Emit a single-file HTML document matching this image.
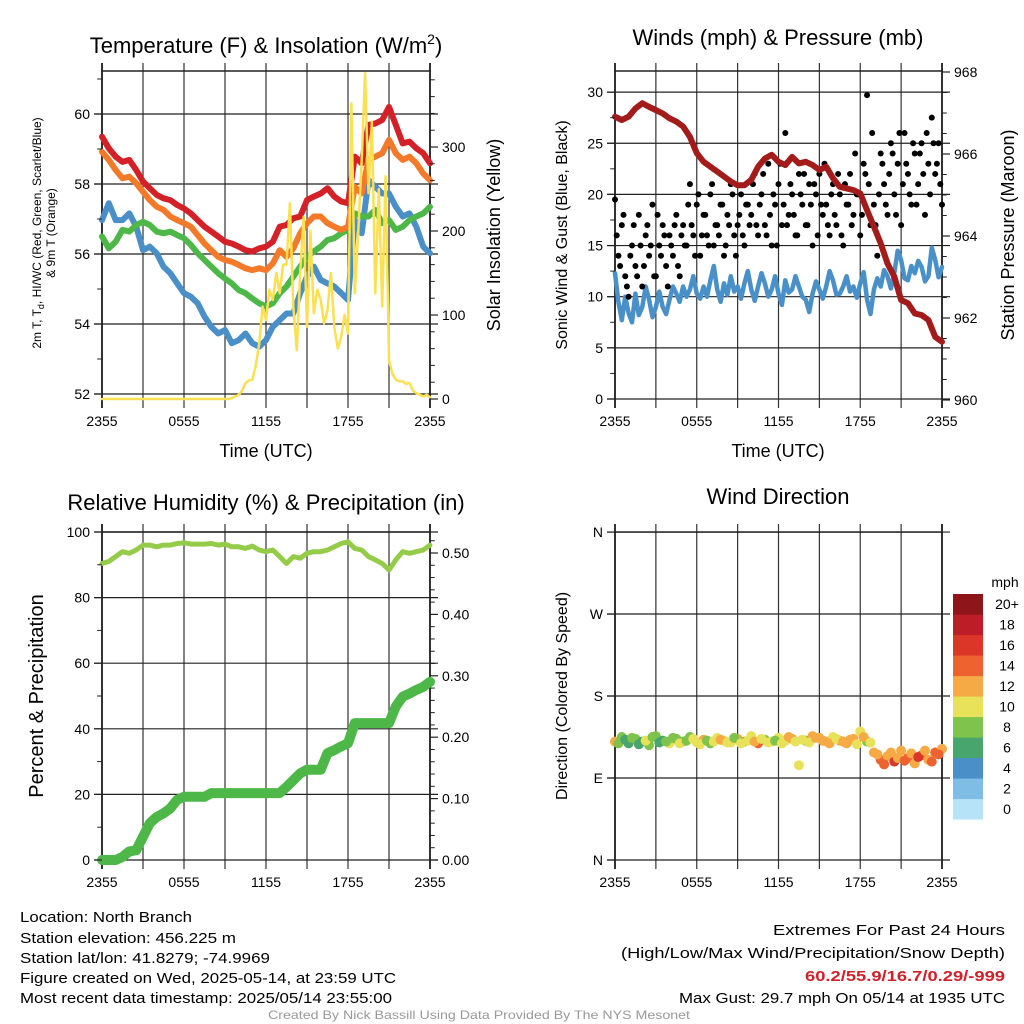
<!DOCTYPE html>
<html><head><meta charset="utf-8"><style>
html,body{margin:0;padding:0;background:#fff;}
svg{display:block;font-family:"Liberation Sans",Arial,sans-serif;}
</style></head><body>
<svg id="c" width="1024" height="1024" viewBox="0 0 1024 1024" xmlns="http://www.w3.org/2000/svg">
<rect x="0" y="0" width="1024" height="1024" fill="#fff"/>
<g id="grid"></g>
<g id="series"></g>
<g id="axes"></g>
<g font-size="22" text-anchor="middle" fill="#000">
<text x="266" y="53">Temperature (F) &amp; Insolation (W/m<tspan dy="-9" font-size="14">2</tspan><tspan dy="9">)</tspan></text>
<text x="778" y="45">Winds (mph) &amp; Pressure (mb)</text>
<text x="266" y="510">Relative Humidity (%) &amp; Precipitation (in)</text>
<text x="778" y="504">Wind Direction</text>
</g>
<g font-size="18" text-anchor="middle" fill="#000">
<text x="266" y="457">Time (UTC)</text>
<text x="778" y="457">Time (UTC)</text>
<text transform="translate(500,235) rotate(-90)">Solar Insolation (Yellow)</text>
<text transform="translate(1014,235) rotate(-90)">Station Pressure (Maroon)</text>
<text transform="translate(43,696) rotate(-90)" font-size="20">Percent &amp; Precipitation</text>
<text transform="translate(567,235) rotate(-90)" font-size="16">Sonic Wind &amp; Gust (Blue, Black)</text>
<text transform="translate(567,696) rotate(-90)" font-size="16">Direction (Colored By Speed)</text>
<text transform="translate(41,233) rotate(-90)" font-size="12">2m T, T<tspan font-size="9" dy="3">d</tspan><tspan dy="-3">, HI/WC (Red, Green, Scarlet/Blue)</tspan></text>
<text transform="translate(55,233) rotate(-90)" font-size="12">&amp; 9m T (Orange)</text>
</g>
<g font-size="15" fill="#000">
<text x="20" y="922" textLength="172" lengthAdjust="spacingAndGlyphs">Location: North Branch</text>
<text x="20" y="943" textLength="216" lengthAdjust="spacingAndGlyphs">Station elevation: 456.225 m</text>
<text x="20" y="963" textLength="250" lengthAdjust="spacingAndGlyphs">Station lat/lon: 41.8279; -74.9969</text>
<text x="20" y="983" textLength="376" lengthAdjust="spacingAndGlyphs">Figure created on Wed, 2025-05-14, at 23:59 UTC</text>
<text x="20" y="1003" textLength="372" lengthAdjust="spacingAndGlyphs">Most recent data timestamp: 2025/05/14 23:55:00</text>
<text x="1005" y="935" text-anchor="end" textLength="232" lengthAdjust="spacingAndGlyphs">Extremes For Past 24 Hours</text>
<text x="1005" y="958" text-anchor="end" textLength="384" lengthAdjust="spacingAndGlyphs">(High/Low/Max Wind/Precipitation/Snow Depth)</text>
<text x="1005" y="981" text-anchor="end" font-weight="bold" fill="#d0202a" textLength="200" lengthAdjust="spacingAndGlyphs">60.2/55.9/16.7/0.29/-999</text>
<text x="1005" y="1003" text-anchor="end" textLength="326" lengthAdjust="spacingAndGlyphs">Max Gust: 29.7 mph On 05/14 at 1935 UTC</text>
<text x="479" y="1019" text-anchor="middle" font-size="12" fill="#999" textLength="422" lengthAdjust="spacingAndGlyphs">Created By Nick Bassill Using Data Provided By The NYS Mesonet</text>
</g>
<g id="cbar"></g>
</svg>
<script>
// ---- data (30-minute samples from 2355 to 2355 UTC unless noted) ----
const timeLabels = ["2355","0555","1155","1755","2355"];
const temp2m = [59.35,59.02,58.78,58.63,58.69,58.4,58.07,57.88,57.69,57.59,57.54,57.4,57.3,57.16,56.97,56.78,56.64,56.5,56.35,56.3,56.21,56.11,56.07,56.16,56.21,56.35,56.78,56.83,57.02,57.07,57.54,57.64,57.73,57.88,57.64,57.5,57.45,58.78,58.59,59.69,59.73,59.83,60.2,59.69,59.16,59.21,59.02,58.88,58.59];
const temp9m = [58.92,58.69,58.4,58.16,58.21,58.02,57.78,57.54,57.35,57.26,57.07,56.97,56.88,56.78,56.54,56.3,56.11,55.92,55.83,55.78,55.69,55.59,55.54,55.59,55.54,55.73,56.11,55.92,56.16,56.59,56.88,57.07,57.07,56.88,56.78,56.69,56.78,57.92,57.73,58.69,58.78,58.88,59.26,58.88,58.69,58.78,58.59,58.3,58.11];
const dewpt = [56.5,56.16,56.35,56.69,56.64,56.83,56.92,56.83,56.64,56.59,56.64,56.54,56.45,56.26,56.02,55.83,55.64,55.45,55.3,55.16,54.97,54.88,54.73,54.59,54.5,54.59,54.88,55.07,55.35,55.64,55.92,56.07,56.21,56.4,56.45,56.59,56.69,57.16,57.07,57.07,57.26,56.88,56.97,56.69,56.78,56.97,57.07,57.16,57.35];
const heatIdx = [56.97,57.45,56.97,56.97,57.16,56.78,56.11,56.21,56.02,55.64,55.45,55.16,54.88,54.78,54.59,54.21,53.92,53.73,53.83,53.45,53.54,53.73,53.45,53.35,53.54,53.92,54.11,54.3,54.3,54.88,55.35,55.64,55.26,55.16,55.07,54.88,54.69,56.97,56.59,58.11,57.92,57.73,57.73,57.35,57.07,57.16,56.78,56.21,56.02];
// solar: 15-minute samples
const solar = [0,0,0,0,0,0,0,0,0,0,0,0,0,0,0,0,0,0,0,0,0,0,0,0,0,0,0,0,0,0,0,0,0,0,0,0,0,0,1,3,5,10,19,22,23,40,66,110,94,130,118,150,126,160,160,233,110,58,150,217,86,200,102,130,118,90,106,150,86,60,74,100,78,352,126,200,284,388,245,330,126,250,110,265,46,30,23,21,21,18,19,10,7,5,3,5,2];
// wind speed: 15-minute samples
const windSpd = [12.3,9.5,7.7,10,8.4,7.5,10.3,8.2,9,11,9.7,8,9,10.5,9,8.3,9.7,11,10.3,9.5,11,10,10.7,12,10.3,9.8,11,10,11.6,13,10.7,9.5,11.3,10.2,12,10.5,11,9.8,11.3,12.5,10.7,9.6,11,12.3,11.3,10,10.7,12,10.3,9.2,11.6,10.4,10.7,12,11,10,9.7,8.5,10.3,11.5,10.7,9.8,11,12.5,11.6,10.2,10.3,11,12,10.5,11,9.9,11.3,12.4,9.7,8.3,10.7,11.8,11,12.6,12,10.8,12.3,14.5,13.6,11.8,11.6,13,12.3,13.5,12.9,11.5,12,14.8,13.6,11.9,12.9];
const pressure = [966.91,966.83,966.91,967.11,967.24,967.15,967.07,966.99,966.87,966.79,966.67,966.42,966.02,965.81,965.69,965.57,965.45,965.33,965.24,965.24,965.37,965.69,965.89,965.98,965.81,965.73,965.93,965.77,965.81,965.73,965.61,965.69,965.41,965.2,965.16,965.12,965.04,964.63,964.23,963.82,963.33,963.01,962.44,962.36,962.11,962.07,961.95,961.54,961.42];
// gusts: 15-minute samples (two interleaved sets)
const gusts = [19.5,14,17,12,10,15,13,18,11,16,14,19,12,15,17,13,16,14,18,12,17,15,21,16,19,14,18,16,20,15,17,19,14,18,21,16,17,20,15,19,18,22,16,20,17,23,15,19,21,17,26,18,20,16,22,19,17,21,15,20,22,18,19,16,21,17,20,15,19,22,18,20,16,23,29.7,17,19,14,24,21,18,25,20,23,17,26,22,19,24,21,25,18,23,27.5,22,25,19];
const gustsB = [16,13,18,11,14,17,12,15,13,17,15,12,18,14,16,11,15,17,13,16,15,19,17,14,20,16,18,15,21,17,16,19,15,17,20,14,18,16,19,17,21,17,19,22,16,18,20,15,23,19,17,21,18,16,20,22,17,19,21,16,19,23,17,20,18,22,16,21,19,17,24,20,18,22,21,26,17,20,23,19,22,24,18,26,21,23,20,25,19,24,22,26,20,25,23,21];
const relHum = [90.4,91,92.5,94,93.5,94.5,96,96,95.5,96,96,96.5,96.7,96.3,96.3,96.3,96.5,96,96.3,95.5,95.5,95,95.7,94.5,94,94.5,92.5,90.4,92.5,92,93.5,94,94,94.5,95.5,96.5,97,95,94.5,92.5,91.5,90.4,88.4,91.5,94,93.5,94,94.5,96];
const precip = [0,0,0,0.005,0.014,0.016,0.038,0.06,0.07,0.076,0.084,0.098,0.103,0.103,0.103,0.103,0.109,0.109,0.109,0.109,0.109,0.109,0.109,0.109,0.109,0.109,0.109,0.119,0.13,0.141,0.147,0.147,0.147,0.174,0.179,0.185,0.19,0.223,0.223,0.223,0.223,0.223,0.223,0.25,0.266,0.271,0.277,0.282,0.29];
const windDir = [130,135,128,133,130,126,136,131,128,133,130,135,129,132,128,134,131,129,133,130,136,128,132,130,134,131,133,104,131,136,134,130,135,131,128,133,141,130,118,110,114,108,120,112,106,115,110,118,122];
const dirSpeed = [12,9,7,8,6,9,8,7,10,8,9,9,10,12,9,11,10,10,12,9,10,14,9,10,10,11,13,11,8,12,12,12,11,13,12,12,10,9,12,14,12,16,12,15,13,14,12,15,13];
const windDirB = [128,132,134,127,131,135,129,130,134,128,131,133,127,131,130,132,129,134,128,131,130,133,129,131,128,135,130,132,129,134,131,128,133,130,132,127,135,129,116,105,118,112,109,117,113,120,108,116];
const dirSpeedB = [8,7,9,6,10,8,7,9,8,10,9,10,11,9,10,12,10,9,11,10,12,10,11,9,10,12,10,11,11,12,13,12,11,12,13,11,12,10,12,15,13,12,14,13,16,12,14,15];
const speedBins = ["0","2","4","6","8","10","12","14","16","18","20+"];
const speedColors = ["#b7e3f8","#7fbce6","#4a8fc7","#48a56e","#7ec34b","#e8e15a","#f6aa46","#ee6230","#dc3629","#bd1d26","#8e1519"];

const NS="http://www.w3.org/2000/svg";
const G=document.getElementById('grid'), S=document.getElementById('series'), A=document.getElementById('axes');
function mk(tag, parent, attrs){const e=document.createElementNS(NS,tag);for(const k in attrs)e.setAttribute(k,attrs[k]);parent.appendChild(e);return e;}

const P=[{x0:102,x1:430,y0:71,y1:399},{x0:615,x1:942,y0:71,y1:399},{x0:102,x1:430,y0:532,y1:860},{x0:615,x1:942,y0:532,y1:860}];
function xFrac(p,f){return p.x0+f*(p.x1-p.x0);}
const y1L=v=>394-(v-52)*35, y1R=w=>399-w*0.84;
const y2L=v=>399-v*10.23, y2R=q=>400-(q-960)*41;
const y3L=v=>860-v*3.28, y3R=q=>860-q*614;
const y4=d=>860-d*0.911;

const hGrid=[[52,54,56,58,60].map(y1L),[0,5,10,15,20,25,30].map(y2L),[0,20,40,60,80,100].map(y3L),[0,90,180,270,360].map(y4)];
P.forEach((p,i)=>{
  for(let j=0;j<=8;j++){const x=p.x0+j*(p.x1-p.x0)/8;
    const l=mk('line',G,{x1:x,x2:x,y1:p.y0-8,y2:p.y1+9,stroke:'#333','stroke-width':(j==0||j==8)?2:1.2});
    
    
    if(j%2==0){const t=mk('text',A,{x:x,y:p.y1+27,'font-size':14,'text-anchor':'middle'});t.textContent=timeLabels[j/2];
      
      }
  }
  hGrid[i].forEach(y=>{const l=mk('line',G,{x1:p.x0-8,x2:p.x1+8,y1:y,y2:y,stroke:'#222','stroke-width':1.2});
    
    });
  const b=mk('line',G,{x1:p.x0-1,x2:p.x1+1,y1:p.y0,y2:p.y0,stroke:'#222','stroke-width':1.5});
  
  
});
function ticks(p,side,vals,fn,labels,minor,minorFn){
  const x=side=='L'?p.x0:p.x1, d=side=='L'?-8:8;
  minor.forEach(v=>{const y=minorFn(v);const l=mk('line',A,{x1:x,x2:x+d*0.6,y1:y,y2:y,stroke:'#222','stroke-width':1});
    
    });
  vals.forEach((v,j)=>{const y=fn(v);const l=mk('line',A,{x1:x,x2:x+d,y1:y,y2:y,stroke:'#222','stroke-width':1.2});
    
    
    const t=mk('text',A,{x:side=='L'?x-12:x+12,y:y+5,'font-size':14,'text-anchor':side=='L'?'end':'start'});t.textContent=labels[j];
    
    
  });
}
ticks(P[0],'L',[52,54,56,58,60],y1L,["52","54","56","58","60"],[53,55,57,59,61],y1L);
ticks(P[0],'R',[0,100,200,300],y1R,["0","100","200","300"],[20,40,60,80,120,140,160,180,220,240,260,280,320,340,360,380],y1R);
ticks(P[1],'L',[0,5,10,15,20,25,30],y2L,["0","5","10","15","20","25","30"],[2.5,7.5,12.5,17.5,22.5,27.5],y2L);
ticks(P[1],'R',[960,962,964,966,968],y2R,["960","962","964","966","968"],[960.5,961,961.5,962.5,963,963.5,964.5,965,965.5,966.5,967,967.5],y2R);
ticks(P[2],'L',[0,20,40,60,80,100],y3L,["0","20","40","60","80","100"],[10,30,50,70,90],y3L);
ticks(P[2],'R',[0,0.1,0.2,0.3,0.4,0.5],y3R,["0.00","0.10","0.20","0.30","0.40","0.50"],[0.02,0.04,0.06,0.08,0.12,0.14,0.16,0.18,0.22,0.24,0.26,0.28,0.32,0.34,0.36,0.38,0.42,0.44,0.46,0.48,0.52],y3R);
ticks(P[3],'L',[0,90,180,270,360],y4,["N","E","S","W","N"],[],y4);

function path(p,arr,fy,color,w,name){
  const n=arr.length-1;
  const d=arr.map((v,k)=>(k?'L':'M')+xFrac(p,k/n).toFixed(1)+','+fy(v).toFixed(1)).join('');
  const e=mk('path',S,{d:d,fill:'none',stroke:color,'stroke-width':w,'stroke-linejoin':'round','stroke-linecap':'round'});
  
  
}
path(P[0],heatIdx,y1L,'#4a8fc7',6,'heat-index-line');
path(P[0],dewpt,y1L,'#4db848',6,'dewpoint-line');
path(P[0],temp9m,y1L,'#f47a2a',6,'temp-9m-line');
path(P[0],temp2m,y1L,'#d42027',6,'temp-2m-line');
path(P[0],solar,y1R,'#fbe052',2.5,'solar-line');

path(P[1],windSpd,y2L,'#4a90c8',4.5,'wind-speed-line');
gusts.forEach((g,k)=>{const c=mk('circle',S,{cx:xFrac(P[1],k/(gusts.length-1)),cy:y2L(g),r:3,fill:'#000'});
  
  });
gustsB.forEach((g,k)=>{const c=mk('circle',S,{cx:xFrac(P[1],(k+0.5)/gustsB.length),cy:y2L(g),r:3,fill:'#000'});
  
  });
path(P[1],pressure,y2R,'#a31b1b',6,'pressure-line');

path(P[2],relHum,y3L,'#94cc4a',5,'humidity-line');
path(P[2],precip,y3R,'#4db848',10,'precip-line');

function binColor(s){let i=Math.min(10,Math.max(0,Math.floor(s/2)));return speedColors[i];}
windDir.forEach((d,k)=>{const c=mk('circle',S,{cx:xFrac(P[3],k/(windDir.length-1)),cy:y4(d),r:5,fill:binColor(dirSpeed[k])});
  
  });
windDirB.forEach((d,k)=>{const c=mk('circle',S,{cx:xFrac(P[3],(k+0.5)/windDirB.length),cy:y4(d),r:5,fill:binColor(dirSpeedB[k])});
  
  });

const CB=document.getElementById('cbar');
const cbt=mk('text',CB,{x:1005,y:587,'font-size':14,'text-anchor':'middle'});cbt.textContent='mph';


speedBins.forEach((lab,i)=>{const y=594+(10-i)*20.5;
  const r=mk('rect',CB,{x:953,y:y,width:30,height:20.6,fill:speedColors[i]});
  
  
  const t=mk('text',CB,{x:1007,y:y+15,'font-size':14,'text-anchor':'middle'});t.textContent=lab;
  
  
});
</script>
</body></html>
